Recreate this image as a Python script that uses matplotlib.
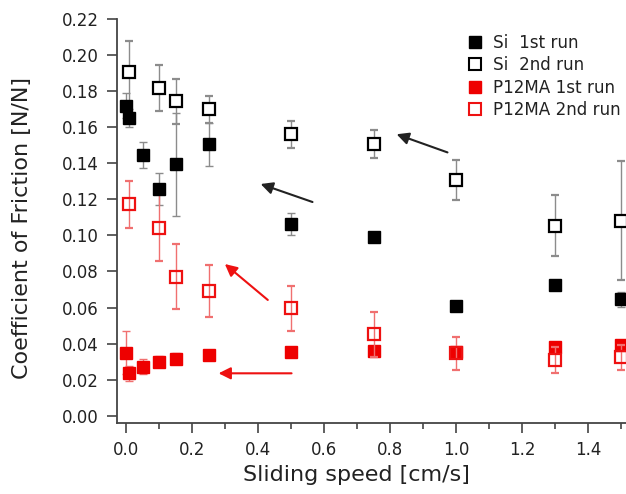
import matplotlib
matplotlib.use("Agg")
import matplotlib.pyplot as plt
from matplotlib.lines import Line2D

plt.rcParams['font.family'] = ['DejaVu Sans']

# Data
si1_x = [0.0, 0.01, 0.05, 0.1, 0.15, 0.25, 0.5, 0.75, 1.0, 1.3, 1.5]
si1_y = [0.172, 0.165, 0.1446, 0.1256, 0.1394, 0.1505, 0.1063, 0.099, 0.0608, 0.0725, 0.0645]
si1_e = [0.007, 0.005, 0.0074, 0.0088, 0.0287, 0.012, 0.006, 0.002, 0.002, 0.003, 0.004]

si2_x = [0.01, 0.1, 0.15, 0.25, 0.5, 0.75, 1.0, 1.3, 1.5]
si2_y = [0.1906, 0.1816, 0.1745, 0.170, 0.156, 0.1505, 0.1307, 0.1054, 0.108]
si2_e = [0.017, 0.0127, 0.0125, 0.0075, 0.0074, 0.0077, 0.011, 0.017, 0.033]

p1_x = [0.0, 0.01, 0.05, 0.1, 0.15, 0.25, 0.5, 0.75, 1.0, 1.3, 1.5]
p1_y = [0.0349, 0.0235, 0.0272, 0.030, 0.0315, 0.0337, 0.0355, 0.036, 0.0355, 0.038, 0.039]
p1_e = [0.012, 0.004, 0.004, 0.003, 0.003, 0.002, 0.002, 0.002, 0.002, 0.002, 0.002]

p2_x = [0.01, 0.1, 0.15, 0.25, 0.5, 0.75, 1.0, 1.3, 1.5]
p2_y = [0.1172, 0.1043, 0.0771, 0.0692, 0.0596, 0.0451, 0.0346, 0.0309, 0.0324]
p2_e = [0.013, 0.0185, 0.018, 0.0145, 0.0125, 0.0125, 0.009, 0.007, 0.007]

labels = ['Si  1st run', 'Si  2nd run', 'P12MA 1st run', 'P12MA 2nd run']

xticks = [0.0, 0.2, 0.4, 0.6, 0.8, 1.0, 1.2, 1.4]
xminor = [0.1, 0.3, 0.5, 0.7, 0.9, 1.1, 1.3, 1.5]
yticks = [0.0, 0.02, 0.04, 0.06, 0.08, 0.10, 0.12, 0.14, 0.16, 0.18, 0.20, 0.22]

# arrows: (tail_x, tail_y, head_x, head_y)
black_arrows = [(0.573, 0.118, 0.40, 0.129), (0.982, 0.1455, 0.812, 0.1566)]
red_arrows = [(0.436, 0.0632, 0.293, 0.0851), (0.51, 0.0235, 0.272, 0.0235)]

fig = plt.figure(figsize=(6.26, 4.94), dpi=100)
ax = fig.add_axes([0.1874, 0.1443, 1 - 0.1874, 0.8172])

ms = 9
ekw = dict(capsize=3, elinewidth=1.0, capthick=1.0, linestyle='none')
ax.errorbar(si2_x, si2_y, yerr=si2_e, marker='s', ms=ms, mfc='white', mec='black', mew=1.6,
            ecolor='#8c8c8c', zorder=3, **ekw)
ax.errorbar(si1_x, si1_y, yerr=si1_e, marker='s', ms=ms, mfc='black', mec='black', mew=1.0,
            ecolor='#8c8c8c', zorder=4, **ekw)
ax.errorbar(p1_x, p1_y, yerr=p1_e, marker='s', ms=ms, mfc='#ee0000', mec='#ee0000', mew=1.0,
            ecolor='#f07070', zorder=3, **ekw)
ax.errorbar(p2_x, p2_y, yerr=p2_e, marker='s', ms=ms, mfc='none', mec='#ee1111', mew=1.6,
            ecolor='#f07070', zorder=4, **ekw)

for tx, ty, hx, hy in black_arrows:
    ax.annotate('', xy=(hx, hy), xytext=(tx, ty),
                arrowprops=dict(arrowstyle='-|>', color='#222222', lw=1.5, mutation_scale=18))
for tx, ty, hx, hy in red_arrows:
    ax.annotate('', xy=(hx, hy), xytext=(tx, ty),
                arrowprops=dict(arrowstyle='-|>', color='#ee1111', lw=1.5, mutation_scale=18))

ax.set_xlim(-0.0264, 1.515)
ax.set_ylim(-0.0039, 0.22)
ax.set_xticks(xticks)
ax.set_xticks(xminor, minor=True)
ax.set_yticks(yticks)
ax.set_xticklabels([f'{v:.1f}' for v in xticks])
ax.set_yticklabels([f'{v:.2f}' for v in yticks])
ax.tick_params(axis='both', which='major', direction='out', length=7.5, width=1.2,
               labelsize=12, color='#444444', labelcolor='#222222', pad=6)
ax.tick_params(axis='x', which='minor', direction='out', length=4.5, width=1.2, color='#444444')
for s in ['top', 'right']:
    ax.spines[s].set_visible(False)
for s in ['left', 'bottom']:
    ax.spines[s].set_linewidth(1.3)
    ax.spines[s].set_color('#444444')

ax.set_xlabel('Sliding speed [cm/s]', fontsize=16, color='#222222')
ax.set_ylabel('Coefficient of Friction [N/N]', fontsize=16, color='#222222')
ax.xaxis.set_label_coords(0.470, -0.105)
ax.yaxis.set_label_coords(-0.168, 0.4835)

handles = [
    Line2D([], [], marker='s', ls='none', ms=8, mfc='black', mec='black'),
    Line2D([], [], marker='s', ls='none', ms=8, mfc='white', mec='black', mew=1.5),
    Line2D([], [], marker='s', ls='none', ms=8, mfc='#ee0000', mec='#ee0000'),
    Line2D([], [], marker='s', ls='none', ms=8, mfc='white', mec='#ee1111', mew=1.5),
]
fig.legend(handles, labels, loc='upper left', bbox_to_anchor=(468 / 626, 1 - 34 / 494),
           frameon=False, fontsize=12.1, handlelength=0.8, handletextpad=0.7,
           labelspacing=0.26, borderaxespad=0.0, borderpad=0.0, labelcolor='#222222')

fig.savefig('out.png', dpi=100)
